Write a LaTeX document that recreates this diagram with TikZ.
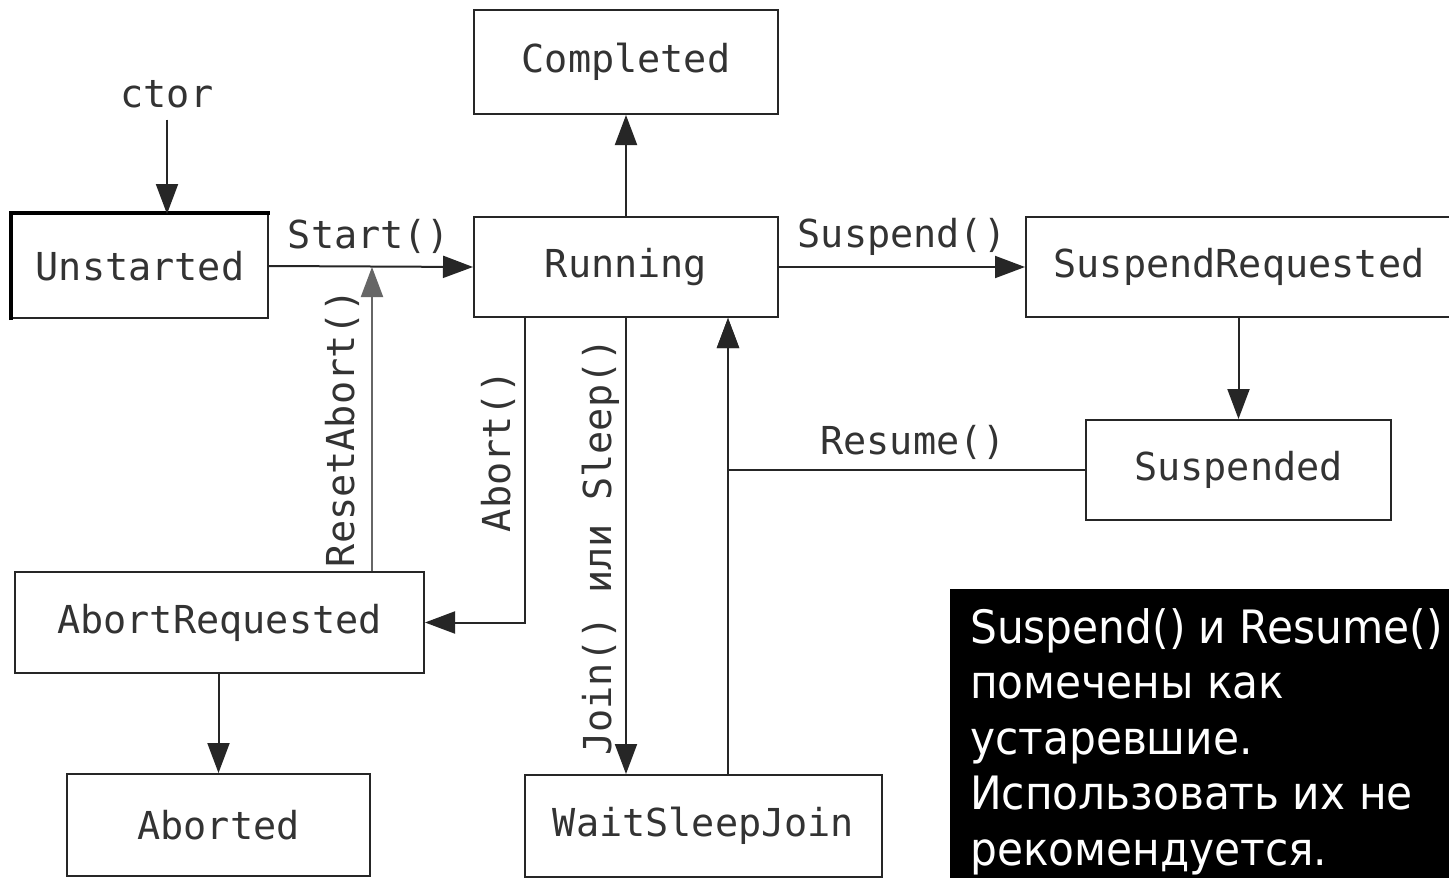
\documentclass[tikz,border=0pt]{standalone}
\usepackage{fontspec}
\setmonofont{DejaVu Sans Mono}
\newfontfamily\notefont[FakeStretch=0.92]{DejaVu Sans}
\usetikzlibrary{arrows.meta,calc}
\begin{document}
\begin{tikzpicture}[x=1pt,y=-1pt,
  state/.style={draw=black!85,line width=2pt,fill=white,inner sep=0pt,text=black!80,
    font={\fontsize{38.5}{46}\selectfont\ttfamily}},
  lbl/.style={inner sep=0pt,font={\fontsize{38.5}{46}\selectfont\ttfamily},text=black!80},
  arr/.style={draw=black!85,line width=2pt,-{Triangle[length=30pt,width=22pt]}},
  notetxt/.style={anchor=base west,inner sep=0pt,text=white,
    font={\fontsize{46}{55}\selectfont\notefont}}
]
\useasboundingbox (0,0) rectangle (1449,878);
\clip (0,0) rectangle (1449,878);
\fill[white] (0,0) rectangle (1449,878);

% states
\node[state,minimum width=304pt,minimum height=104pt] (completed) at (626,62) {Completed};
\node[state,minimum width=256pt,minimum height=104pt] (unstarted) at (140,266) {Unstarted};
\draw[black,line width=4pt] ($(unstarted.south west)+(0,1)$) -- (unstarted.north west) -- ($(unstarted.north east)+(1,0)$);
\node[state,minimum width=304pt,minimum height=100pt] (running) at (626,267) {Running};
\node[state,minimum width=426pt,minimum height=100pt] (suspreq) at (1239,267) {SuspendRequested};
\node[state,minimum width=305pt,minimum height=100pt] (suspended) at (1238.5,470) {Suspended};
\node[state,minimum width=409pt,minimum height=101pt] (abortreq) at (219.5,622.5) {AbortRequested};
\node[state,minimum width=303pt,minimum height=102pt] (aborted) at (218.5,825) {Aborted};
\node[state,minimum width=357pt,minimum height=102pt] (wsj) at (703.5,826) {WaitSleepJoin};

% ctor
\node[lbl,anchor=base] (ctor) at (167,107) {ctor};
\coordinate (ctorend) at (167,214);
\draw[arr] ($(ctor.south)+(0,12)$) -- (ctorend);

% Start()
\draw[arr] (unstarted.east) -- (running.west);
\node[lbl,anchor=base] (startl) at (369,248) {Start()};

% ResetAbort()
\coordinate (resettip) at (372,267);
\draw[arr,draw=black!60] (abortreq.north -| resettip) -- (resettip);
\node[lbl,rotate=90] (resetl) at (342,428) {ResetAbort()};

% Completed
\draw[arr] (running.north) -- (completed.south);

% Suspend()
\draw[arr] (running.east) -- (suspreq.west);
\node[lbl,anchor=base] (suspendl) at (902,247) {Suspend()};

% SuspendRequested -> Suspended
\draw[arr] (suspreq.south -| suspended.north) -- (suspended.north);

% Resume()
\coordinate (rup) at ($(running.south)+(102,0)$);
\draw[arr] (suspended.west) -| (rup);
\node[lbl,anchor=base] (resumel) at (913,454) {Resume()};

% WaitSleepJoin -> Running
\draw[arr] (wsj.north -| rup) -- (rup);

% Running -> WaitSleepJoin
\draw[arr] (running.south) -- (running.south |- wsj.north);
\node[lbl,rotate=90] (joinl) at (601,547) {Join() или Sleep()};

% Abort()
\coordinate (abstart) at ($(running.south)+(-101,0)$);
\draw[arr] (abstart) |- (abortreq.east);
\node[lbl,rotate=90] (abortl) at (498,451) {Abort()};

% AbortRequested -> Aborted
\draw[arr] (abortreq.south -| aborted.north) -- (aborted.north);

% note
\node[fill=black,draw=none,anchor=north west,minimum width=520pt,minimum height=300pt,inner sep=0pt] (note) at (950,589) {};
\node[notetxt] (n1) at (970,643) {Suspend() и Resume()};
\node[notetxt] (n2) at (970,698.5) {помечены как};
\node[notetxt] (n3) at (970,754) {устаревшие.};
\node[notetxt] (n4) at (970,809.5) {Использовать их не};
\node[notetxt] (n5) at (970,865) {рекомендуется.};
\end{tikzpicture}
\end{document}
